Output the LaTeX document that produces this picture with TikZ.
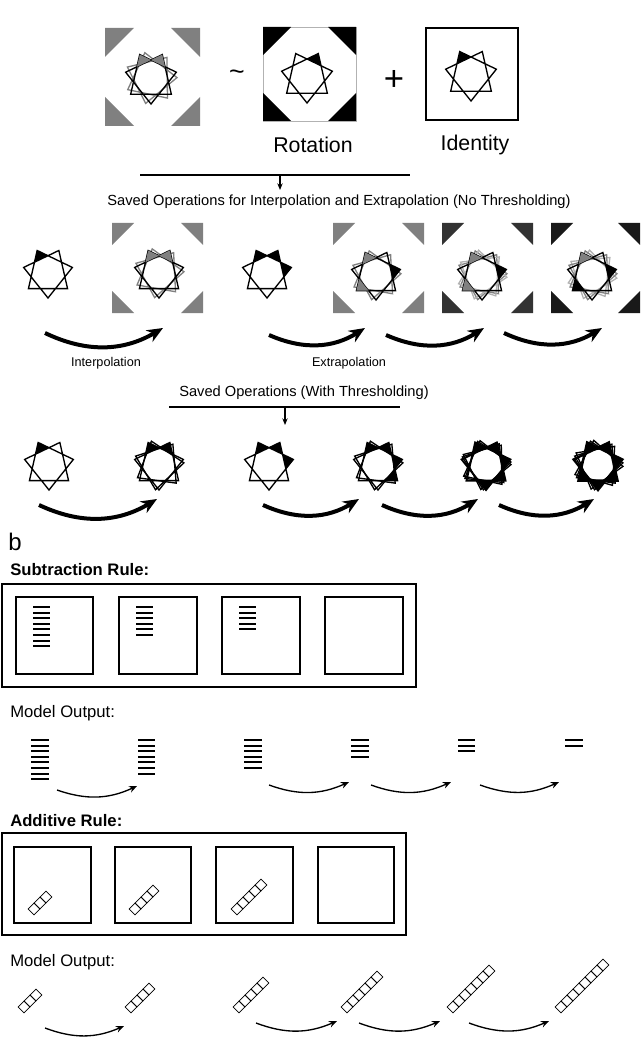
\documentclass[tikz,border=0pt]{standalone}
\usepackage{fontspec}
\setmainfont{Liberation Sans}
\usetikzlibrary{arrows.meta,calc}
\newcommand\hept[4][]{\draw[#1,shift={(#2)},rotate=#4] (90:#3) -- (192.857:#3) -- (295.714:#3) -- (38.571:#3) -- (141.429:#3) -- (244.286:#3) -- (347.143:#3) -- cycle;}
\newcommand\spike[4][black]{\fill[#1,shift={(#2)}] ({90+#4*51.4286}:#3) -- ({90+#4*51.4286-25.714}:{0.692*#3}) -- ({90+#4*51.4286+25.714}:{0.692*#3}) -- cycle;}
\newcommand\corners[6]{% x1 y1 x2 y2 leg colour
 \fill[#6] (#1,#2) -- ++(#5,0) -- (#1,#2+#5) -- cycle;
 \fill[#6] (#3,#2) -- ++(-#5,0) -- (#3,#2+#5) -- cycle;
 \fill[#6] (#1,#4) -- ++(#5,0) -- (#1,#4-#5) -- cycle;
 \fill[#6] (#3,#4) -- ++(-#5,0) -- (#3,#4-#5) -- cycle;}
\newcommand\stack[4]{\foreach \i in {1,...,#3}{\draw[line width=1.6pt] (#1,{#2+(\i-1)*5.6}) -- ++(#4,0);}}
\newcommand\chain[3]{\foreach \i in {1,...,#3}{\draw[line width=0.5pt,shift={({#1+(\i-1)*6},{#2-(\i-1)*6})},rotate=45] (-4.2,-4.2) rectangle (4.2,4.2);}}
\tikzset{big/.style={line width=3pt,-{Stealth[length=12pt,width=10pt]}},
 small/.style={line width=1pt,-{Stealth[length=6pt,width=5pt]}},
 box/.style={draw,line width=0.8pt},
 lbl/.style={inner sep=0pt}}
\begin{document}
\begin{tikzpicture}[x=0.75pt,y=-0.75pt]
\useasboundingbox (0,0) rectangle (640,1037);
% ---------- top row
\corners{105}{28}{200}{126}{29}{gray}
\hept[gray,line width=1pt]{151,78}{26}{-12}
\hept[line width=1pt]{151,78}{26}{0}
\spike[gray]{151,78}{26}{3}\spike[gray]{151,78}{26}{4}
\node[lbl,font=\fontsize{20}{22}\selectfont] (tilde) at (237,75) {\~{}};
\draw[gray!60,line width=0.6pt] (263,27) rectangle (356,121);
\corners{263}{27}{356}{121}{28}{black}
\hept[line width=1pt]{307,77}{26}{0}\spike{307,77}{26}{4}
\node[lbl,font=\fontsize{26}{28}\selectfont] (plus) at (394,80) {+};
\draw[box,line width=1.2pt] (426,28) rectangle (518,120);
\hept[line width=1pt]{471,75}{26}{0}\spike{471,75}{26}{3}
\node[lbl,font=\fontsize{16}{18}\selectfont] (rot) at (313,145) {Rotation};
\node[lbl,font=\fontsize{16}{18}\selectfont] (ide) at (475,145) {Identity};
\draw[line width=0.8pt] (140,175) -- (410,175);
\coordinate (a1) at (280,175); \coordinate (a2) at (280,190);
\draw[line width=0.8pt,-{Stealth[length=5pt,width=4pt]}] (a1) -- (a2);
\node[lbl,font=\fontsize{11}{13}\selectfont] (t1) at (339,202) {Saved Operations for Interpolation and Extrapolation (No Thresholding)};
% ---------- row 2
\hept[line width=1pt]{48,273}{25}{0}\spike{48,273}{25}{3}
\corners{112}{223}{203}{313}{22}{gray}
\hept[gray,line width=1pt]{159,273}{25}{-10}\hept[line width=1pt]{159,273}{25}{0}
\spike[gray]{159,273}{25}{3}\spike[gray]{159,273}{25}{4}
\hept[line width=1pt]{267,273}{25}{0}\spike{267,273}{25}{3}\spike{267,273}{25}{4}\spike{267,273}{25}{5}
\corners{333}{223}{424}{313}{22}{gray}
\hept[gray,line width=1pt]{376,275}{25}{-10}\hept[line width=1pt]{376,275}{25}{0}
\spike[gray]{376,275}{25}{3}\spike{376,275}{25}{5}\spike[gray]{376,275}{25}{1}
\corners{442}{223}{533}{313}{22}{black!80}
\hept[gray,line width=1pt]{482,275}{25}{-10}\hept[gray!60,line width=1pt]{482,275}{25}{-18}\hept[line width=1pt]{482,275}{25}{0}
\spike[gray]{482,275}{25}{3}\spike{482,275}{25}{5}\spike[gray]{482,275}{25}{1}
\corners{551}{223}{640}{313}{22}{black!90}
\hept[gray!60,line width=1pt]{592,275}{25}{-20}\hept[gray,line width=1pt]{592,275}{25}{-10}\hept[line width=1pt]{592,275}{25}{0}
\spike[gray]{592,275}{25}{3}\spike{592,275}{25}{5}\spike{592,275}{25}{1}
\coordinate (p1) at (45,333); \coordinate (q1) at (163,328);
\coordinate (p2) at (269,335); \coordinate (q2) at (365,328);
\coordinate (p3) at (386,335); \coordinate (q3) at (484,328);
\coordinate (p4) at (504,333); \coordinate (q4) at (602,328);
\foreach \k in {1,...,4}{\draw[big] (p\k) to[bend right=28] (q\k);}
\node[lbl,font=\fontsize{9.5}{11}\selectfont] (ip) at (106,363) {Interpolation};
\node[lbl,font=\fontsize{9.5}{11}\selectfont] (ep) at (349,363) {Extrapolation};
% ---------- row 3
\node[lbl,font=\fontsize{11}{13}\selectfont] (t2) at (304,393) {Saved Operations (With Thresholding)};
\draw[line width=0.8pt] (169,407) -- (400,407);
\coordinate (b1) at (285,407); \coordinate (b2) at (285,425);
\draw[line width=0.8pt,-{Stealth[length=5pt,width=4pt]}] (b1) -- (b2);
\hept[line width=1pt]{49,465}{25}{0}\spike{49,465}{25}{3}
\hept[line width=1pt]{159,465}{25}{-8}\hept[line width=1pt]{159,465}{25}{0}\spike{159,465}{25}{3}\spike{159,465}{25}{4}
\hept[line width=1pt]{269,465}{25}{0}\spike{269,465}{25}{3}\spike{269,465}{25}{4}\spike{269,465}{25}{5}
\hept[line width=1pt]{378,465}{25}{-8}\hept[line width=1pt]{378,465}{25}{0}\spike{378,465}{25}{3}\spike{378,465}{25}{4}\spike{378,465}{25}{5}\spike{378,465}{25}{6}
\hept[line width=1pt]{486,465}{25}{-12}\hept[line width=1pt]{486,465}{25}{-6}\hept[line width=1.4pt]{486,465}{25}{0}\foreach \s in {0,3,4,5,6}{\spike{486,465}{25}{\s}}
\hept[line width=1pt]{598,465}{25}{-16}\hept[line width=1pt]{598,465}{25}{-8}\hept[line width=1.8pt]{598,465}{25}{0}\foreach \s in {0,1,3,4,5,6}{\spike{598,465}{25}{\s}}
\coordinate (r1) at (39,505); \coordinate (s1) at (157,499);
\coordinate (r2) at (263,505); \coordinate (s2) at (359,499);
\coordinate (r3) at (382,505); \coordinate (s3) at (478,499);
\coordinate (r4) at (499,505); \coordinate (s4) at (594,499);
\foreach \k in {1,...,4}{\draw[big] (r\k) to[bend right=28] (s\k);}
% ---------- part b
\node[lbl,anchor=west,font=\fontsize{18}{20}\selectfont] (bb) at (8,542) {b};
\node[lbl,anchor=west,font=\bfseries\fontsize{12.5}{14}\selectfont] (sr) at (10,570) {Subtraction Rule:};
\draw[box] (2,584) rectangle (416,687);
\draw[box] (16,597) rectangle (93,674);
\draw[box] (119,597) rectangle (197,674);
\draw[box] (222,597) rectangle (300,674);
\draw[box] (325,597) rectangle (403,674);
\stack{33}{607}{8}{17}\stack{136}{607}{6}{17}\stack{239}{607}{5}{17}
\node[lbl,anchor=west,font=\fontsize{12.5}{14}\selectfont] (mo1) at (10,713) {Model Output:};
\stack{31}{740}{8}{18}\stack{138}{740}{7}{17}\stack{244}{740}{6}{18}
\stack{351}{740}{4}{18}\stack{458}{740}{3}{17}\stack{565}{740}{2}{18}
\coordinate (u1) at (57,790); \coordinate (v1) at (137,786);
\coordinate (u2) at (269,785); \coordinate (v2) at (349,782);
\coordinate (u3) at (371,785); \coordinate (v3) at (451,782);
\coordinate (u4) at (480,785); \coordinate (v4) at (559,782);
\foreach \k in {1,...,4}{\draw[small] (u\k) to[bend right=22] (v\k);}
\node[lbl,anchor=west,font=\bfseries\fontsize{12.5}{14}\selectfont] (ar) at (10,821) {Additive Rule:};
\draw[box] (2,833) rectangle (406,935);
\draw[box] (14,847) rectangle (91,923);
\draw[box] (115,847) rectangle (191,923);
\draw[box] (216,847) rectangle (293,923);
\draw[box] (318,847) rectangle (394,923);
\chain{34}{909}{3}\chain{135}{909}{4}\chain{237}{909}{5}
\node[lbl,anchor=west,font=\fontsize{12.5}{14}\selectfont] (mo2) at (10,962) {Model Output:};
\chain{24}{1007}{3}\chain{131}{1007}{4}\chain{239}{1007}{5}\chain{347}{1007}{6}\chain{453}{1007}{7}\chain{561}{1007}{8}
\coordinate (w1) at (45,1028); \coordinate (z1) at (124,1026);
\coordinate (w2) at (256,1023); \coordinate (z2) at (337,1021);
\coordinate (w3) at (359,1023); \coordinate (z3) at (440,1021);
\coordinate (w4) at (469,1023); \coordinate (z4) at (549,1021);
\foreach \k in {1,...,4}{\draw[small] (w\k) to[bend right=22] (z\k);}
\end{tikzpicture}
\end{document}
